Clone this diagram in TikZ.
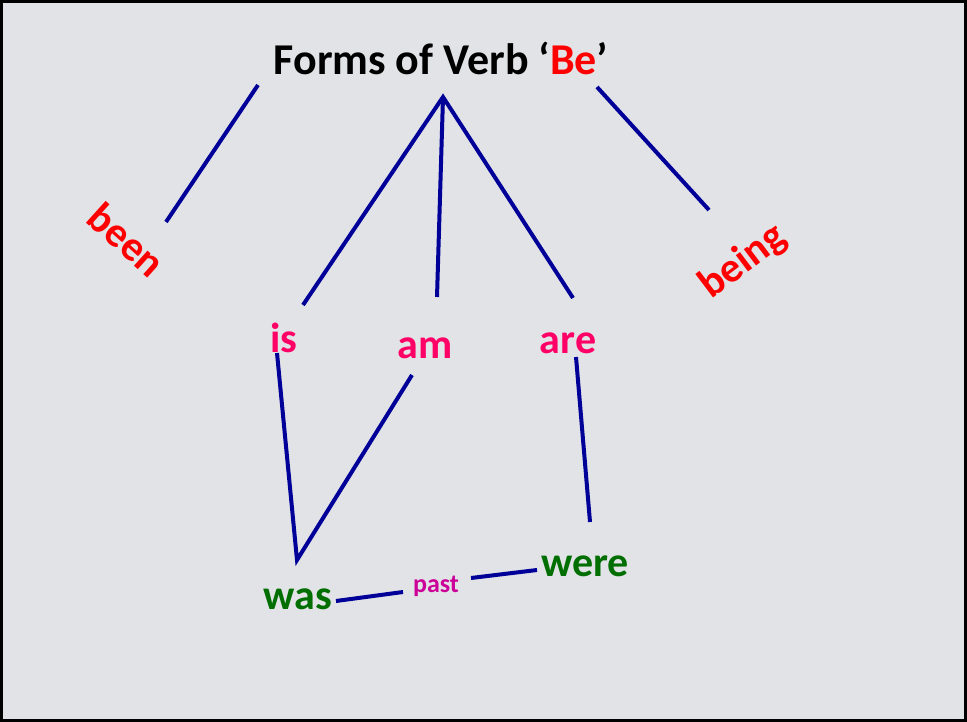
\documentclass[tikz,border=0pt]{standalone}
\usepackage{fontspec}
\setmainfont{Carlito}
\definecolor{marble}{RGB}{226,227,231}
\definecolor{linkblue}{RGB}{0,0,153}
\definecolor{formred}{RGB}{255,0,0}
\definecolor{formpink}{RGB}{255,0,102}
\definecolor{formgreen}{RGB}{0,110,0}
\definecolor{pastmag}{RGB}{204,0,153}
\begin{document}
\begin{tikzpicture}
  [x=1pt, y=-1pt,
  word/.style={font=\fontsize{42}{48}\selectfont\bfseries, inner sep=0pt, anchor=base},
  title/.style={word, font=\fontsize{44}{50}\selectfont\bfseries},
  small/.style={word, font=\fontsize{26}{30}\selectfont\bfseries},
  link/.style={draw=linkblue, line width=4pt}]
  \useasboundingbox (0,0) rectangle (967,722);
  \fill[marble] (0,0) rectangle (967,722);
  \draw[line width=3pt] (1.5,1.5) rectangle (965.5,720.5);
  % words
  \node (head) [title] at (441,75) {Forms of Verb `\textcolor{formred}{Be}'};
  \node (been) [word, formred, anchor=center, rotate=-42] at (127,240) {been};
  \node (being) [word, formred, anchor=center, rotate=37] at (743,262) {being};
  \node (is) [word, formpink] at (284,352) {is};
  \node (am) [word, formpink] at (425,358) {am};
  \node (are) [word, formpink] at (568,353) {are};
  \node (was) [word, formgreen] at (298,609) {was};
  \node (were) [word, formgreen] at (585,576) {were};
  \node (past) [small, pastmag] at (436,592) {past};
  % line ends
  \coordinate (apex) at (443,97);
  \coordinate (head-l) at (258,85);
  \coordinate (head-r) at (597,87);
  \coordinate (been-e) at (166,222);
  \coordinate (being-e) at (709,210);
  \coordinate (is-t) at (303,305);
  \coordinate (am-t) at (437,297);
  \coordinate (are-t) at (573,298);
  \coordinate (is-b) at (277,353);
  \coordinate (am-b) at (412,375);
  \coordinate (are-b) at (576,357);
  \coordinate (was-t) at (297,560);
  \coordinate (were-t) at (590,522);
  \coordinate (was-r) at (336,601);
  \coordinate (past-l) at (403,592);
  \coordinate (past-r) at (471,578);
  \coordinate (were-l) at (537,570);
  % links
  \draw[link] (head-l) -- (been-e);
  \draw[link] (head-r) -- (being-e);
  \draw[link] (is-t) -- (apex) -- (are-t);
  \draw[link] (apex) -- (am-t);
  \draw[link] (is-b) -- (was-t) -- (am-b);
  \draw[link] (are-b) -- (were-t);
  \draw[link] (was-r) -- (past-l);
  \draw[link] (past-r) -- (were-l);
\end{tikzpicture}
\end{document}
